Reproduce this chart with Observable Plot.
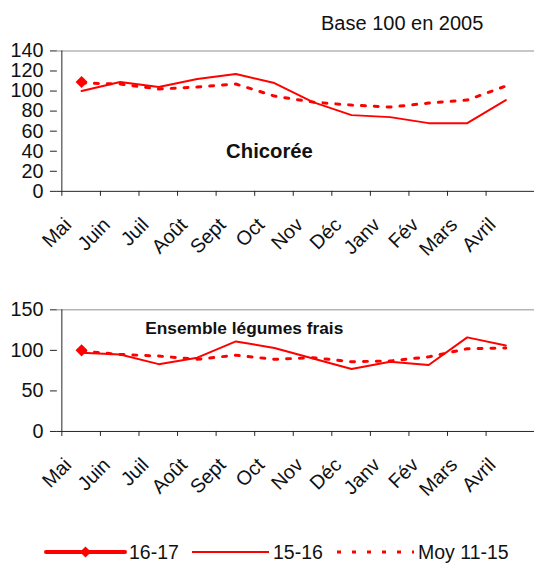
<!DOCTYPE html>
<html><head><meta charset="utf-8">
<script src="https://cdn.jsdelivr.net/npm/d3@7"></script>
<script src="https://cdn.jsdelivr.net/npm/@observablehq/plot@0.6"></script>
<style>
body{margin:0;background:#fff;font-family:"Liberation Sans",Arial,sans-serif;color:#111;}
#wrap{position:relative;width:534px;height:563px;overflow:hidden;background:#fff;}
#base{position:absolute;left:321px;top:12px;font-size:20px;white-space:nowrap;z-index:5;}
#c1{position:absolute;left:0;top:0;z-index:2;}
#c2{position:absolute;left:0;top:250px;z-index:1;}
#legend{position:absolute;left:0;top:538px;}
</style></head>
<body><div id="wrap">
<div id="c1"></div><div id="c2"></div><div id="legend"></div>
<div id="base">Base 100 en 2005</div>
</div>
<script>
const months = ["Mai","Juin","Juil","Août","Sept","Oct","Nov","Déc","Janv","Fév","Mars","Avril"];
const seriesNames = ["16-17","15-16","Moy 11-15"];
// Chicorée
const chic1617 = [109];
const chic1516 = [100,109,104,112,117,108,89,76,74,68,68,91];
const chicMoy  = [108,107,102,104,107,95,89,86,84,88,91,105];
const chicTicks = [0,20,40,60,80,100,120,140];
// Ensemble légumes frais
const leg1617 = [100];
const leg1516 = [97,95,83,91,111,103,90,77,86,82,116,106];
const legMoy  = [99,95,93,89,94,89,91,86,87,92,102,103];
const legTicks = [0,50,100,150];

const RED = "#ff0000";
const X0 = 57.5, X1 = 536.3;
const step = (X1 - X0) / months.length;
const FONT = '"Liberation Sans", Arial, sans-serif';

function rows(vals){ return vals.map((v,i)=>({m:months[i], v})); }

function panel({height, mt, mb, domain, ticks, s1617, s1516, smoy, label, labelAt, labelDx, labelSize}){
  return Plot.plot({
    width: 540, height,
    marginTop: mt, marginBottom: mb, marginLeft: X0, marginRight: 0,
    style: {fontFamily: FONT, color: "#111", background: "transparent", overflow: "visible"},
    x: {type: "point", domain: months, range: [X0, X1], padding: 0.5},
    y: {domain, ticks},
    marks: [
      Plot.ruleY([domain[1]], {stroke: "#b5b5b5", strokeWidth: 1.5}),
      Plot.axisY({ticks, tickSize: 7, tickPadding: 7, fontSize: 20, label: null, stroke: "#222"}),
      Plot.ruleX([0], {x: () => months[0], dx: -step/2, stroke: "#222"}),
      Plot.ruleY([0], {stroke: "#222"}),
      Plot.axisX({tickSize: 5, tickFormat: () => "", dx: -step/2, label: null, stroke: "#222"}),
      Plot.axisX({tickSize: 0, tickPadding: 25, tickRotate: -45, textAnchor: "end", lineAnchor: "top", dx: -19, fontSize: 20, label: null}),
      Plot.line(rows(smoy), {x: "m", y: "v", stroke: RED, strokeWidth: 3, strokeDasharray: "4,9"}),
      Plot.line(rows(s1516), {x: "m", y: "v", stroke: RED, strokeWidth: 2}),
      Plot.dot(rows(s1617), {x: "m", y: "v", symbol: "diamond2", fill: RED, r: 5.5}),
      Plot.text([label], {x: () => labelAt[0], y: () => labelAt[1], text: d => d, dx: labelDx, fontWeight: "bold", fontSize: labelSize, fill: "#111"})
    ]
  });
}

document.getElementById("c1").appendChild(panel({
  height: 250, mt: 51, mb: 57, domain: [0,140], ticks: chicTicks,
  s1617: chic1617, s1516: chic1516, smoy: chicMoy,
  label: "Chicorée", labelAt: ["Sept", 40], labelDx: 34, labelSize: 20.5
}));
document.getElementById("c2").appendChild(panel({
  height: 250, mt: 60, mb: 67, domain: [0,150], ticks: legTicks,
  s1617: leg1617, s1516: leg1516, smoy: legMoy,
  label: "Ensemble légumes frais", labelAt: ["Sept", 127], labelDx: 8.5, labelSize: 17.5
}));

// Legend
const lg = d3.select("#legend").append("svg").attr("width", 534).attr("height", 25);
const items = [
  {x: 46, w: 79, sw: 4, dash: null, diamond: true},
  {x: 192, w: 77, sw: 2, dash: null, diamond: false},
  {x: 337, w: 77, sw: 3, dash: "4,11", diamond: false}
];
items.forEach((it, i) => {
  const g = lg.append("g");
  g.append("line").attr("x1", it.x).attr("x2", it.x + it.w).attr("y1", 14).attr("y2", 14)
    .attr("stroke", RED).attr("stroke-width", it.sw).attr("stroke-dasharray", it.dash).attr("stroke-linecap", it.diamond ? "round" : "butt");
  if (it.diamond) g.append("path").attr("d", d3.symbol(d3.symbolDiamond2, 80)()).attr("transform", `translate(${it.x + it.w/2},14)`).attr("fill", RED);
  g.append("text").attr("x", it.x + it.w + 4).attr("y", 14).attr("dy", "0.35em")
    .attr("font-size", 19.5).attr("font-family", FONT).attr("fill", "#111").text(seriesNames[i]);
});
</script>
</body></html>
